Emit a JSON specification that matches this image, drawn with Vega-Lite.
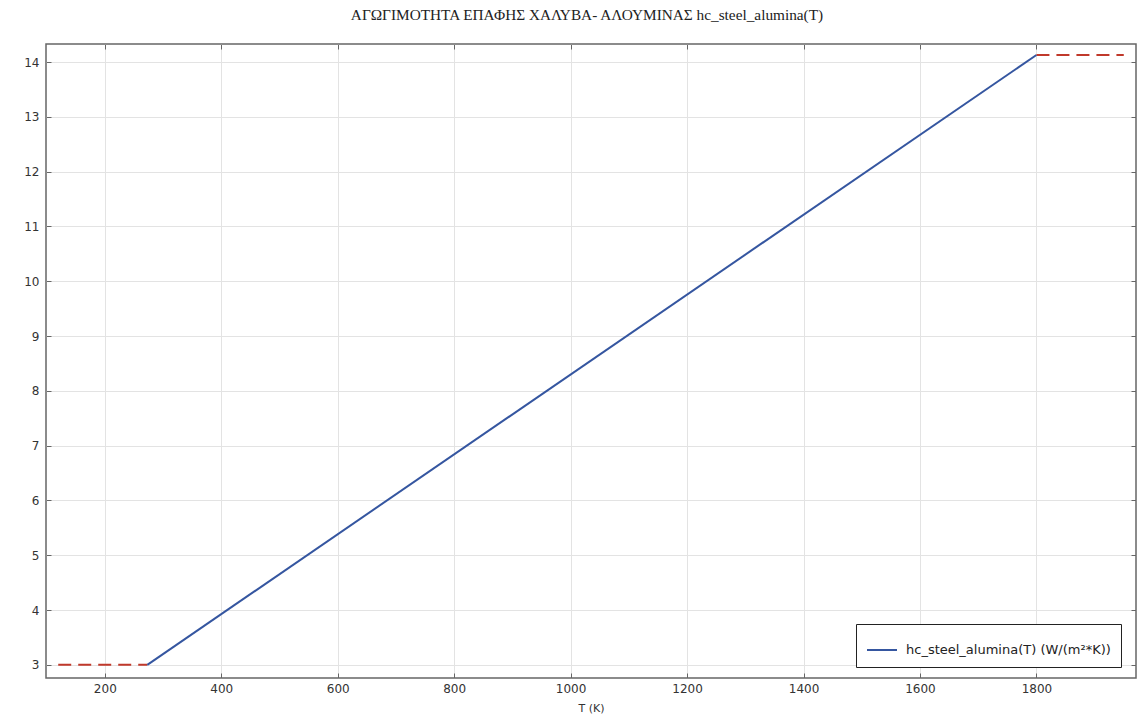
{
  "$schema": "https://vega.github.io/schema/vega-lite/v6.json",
  "width": 1090,
  "height": 634,
  "autosize": "none",
  "padding": {"left": 46, "top": 44, "right": 4, "bottom": 43},
  "background": "white",
  "title": {
    "text": "ΑΓΩΓΙΜΟΤΗΤΑ ΕΠΑΦΗΣ ΧΑΛΥΒΑ- ΑΛΟΥΜΙΝΑΣ hc_steel_alumina(T)",
    "anchor": "middle",
    "dx": -4,
    "offset": 20,
    "font": "Liberation Serif",
    "fontSize": 15.3,
    "fontWeight": "normal",
    "color": "#222"
  },
  "data": {
    "values": [
      {"seg": "lo", "T": 120, "hc": 3.0},
      {"seg": "lo", "T": 273, "hc": 3.0},
      {"seg": "main", "T": 273, "hc": 3.0},
      {"seg": "main", "T": 1800, "hc": 14.13},
      {"seg": "hi", "T": 1800, "hc": 14.13},
      {"seg": "hi", "T": 1950, "hc": 14.13}
    ]
  },
  "config": {
    "view": {"stroke": "#666", "strokeWidth": 1.5},
    "axis": {
      "domain": false,
      "labelFont": "DejaVu Sans",
      "labelFontSize": 12,
      "labelColor": "#333",
      "titleFont": "DejaVu Sans",
      "titleFontSize": 11,
      "titleFontWeight": "normal",
      "titleColor": "#333",
      "tickColor": "#666",
      "tickWidth": 1,
      "gridColor": "#e3e3e3",
      "gridWidth": 1
    }
  },
  "resolve": {"axis": {"x": "independent", "y": "independent"}},
  "layer": [
    {
      "transform": [{"filter": "datum.seg != 'main'"}],
      "mark": {"type": "line", "color": "#c0392b", "strokeWidth": 2, "strokeDash": [13, 7]},
      "encoding": {
        "x": {
          "field": "T", "type": "quantitative",
          "scale": {"domain": [99, 1971], "nice": false, "zero": false},
          "axis": {"orient": "bottom", "values": [200, 400, 600, 800, 1000, 1200, 1400, 1600, 1800], "format": "d", "title": "T (K)", "titlePadding": 8, "tickSize": -5, "labelPadding": 10, "grid": true}
        },
        "y": {
          "field": "hc", "type": "quantitative",
          "scale": {"domain": [2.76, 14.33], "nice": false, "zero": false},
          "axis": {"orient": "left", "values": [3, 4, 5, 6, 7, 8, 9, 10, 11, 12, 13, 14], "title": null, "tickSize": -5, "labelPadding": 12, "grid": true}
        },
        "detail": {"field": "seg"}
      }
    },
    {
      "transform": [{"filter": "datum.seg == 'main'"}],
      "mark": {"type": "line", "strokeWidth": 2},
      "encoding": {
        "x": {
          "field": "T", "type": "quantitative",
          "scale": {"domain": [99, 1971], "nice": false, "zero": false},
          "axis": {"orient": "top", "values": [200, 400, 600, 800, 1000, 1200, 1400, 1600, 1800], "title": null, "labels": false, "tickSize": -5, "grid": false}
        },
        "y": {
          "field": "hc", "type": "quantitative",
          "scale": {"domain": [2.76, 14.33], "nice": false, "zero": false},
          "axis": {"orient": "right", "values": [3, 4, 5, 6, 7, 8, 9, 10, 11, 12, 13, 14], "title": null, "labels": false, "tickSize": -5, "grid": false}
        },
        "color": {
          "datum": "hc_steel_alumina(T) (W/(m²*K))",
          "type": "nominal",
          "scale": {"range": ["#3556a0"]},
          "legend": {
            "title": null,
            "orient": "none",
            "legendX": 810,
            "legendY": 580,
            "symbolType": "stroke",
            "symbolStrokeWidth": 2,
            "symbolSize": 900,
            "labelOffset": 8,
            "labelFont": "DejaVu Sans",
            "labelFontSize": 13,
            "labelLimit": 0,
            "labelColor": "#222",
            "strokeColor": "#222",
            "fillColor": "white",
            "padding": 10
          }
        }
      }
    }
  ]
}
